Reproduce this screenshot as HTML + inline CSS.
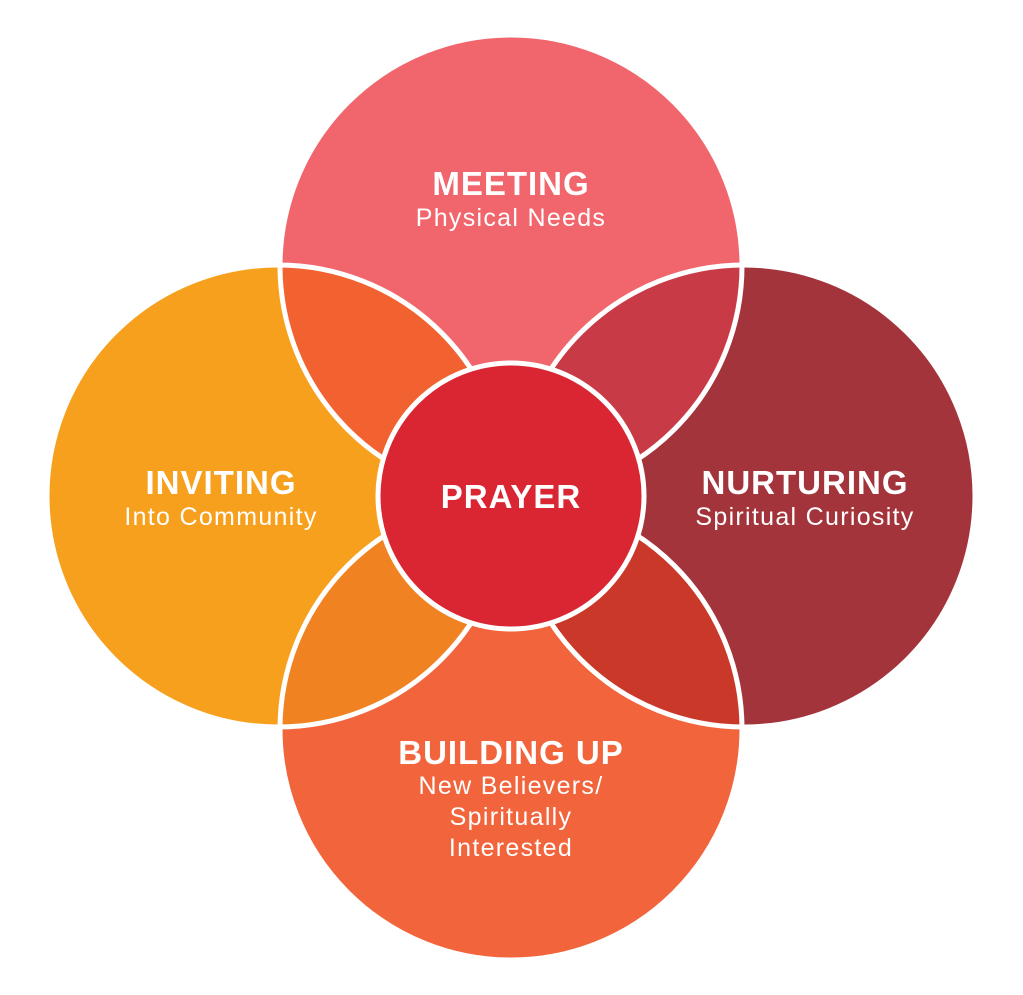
<!DOCTYPE html>
<html><head><meta charset="utf-8"><style>
html,body{margin:0;padding:0;background:#fff;}
svg{display:block;}
text{font-family:"Liberation Sans",sans-serif;fill:#fff;text-anchor:middle;}
.t{font-weight:bold;font-size:33px;letter-spacing:1px;}
.s{font-size:25px;letter-spacing:1.3px;}
</style></head><body>
<svg width="1023" height="995" viewBox="0 0 1023 995" xmlns="http://www.w3.org/2000/svg">
<defs>
<clipPath id="cT"><circle cx="511" cy="266" r="231"/></clipPath>
<clipPath id="cB"><circle cx="511" cy="729" r="231"/></clipPath>
</defs>
<circle cx="511" cy="266" r="231" fill="#F1666D"/>
<circle cx="511" cy="729" r="231" fill="#F2643B"/>
<circle cx="278" cy="496" r="231" fill="#F7A01E"/>
<circle cx="744" cy="496" r="231" fill="#A3343B"/>
<g clip-path="url(#cT)">
<circle cx="278" cy="496" r="231" fill="#F26130"/>
<circle cx="744" cy="496" r="231" fill="#C93A47"/>
</g>
<g clip-path="url(#cB)">
<circle cx="278" cy="496" r="231" fill="#F08221"/>
<circle cx="744" cy="496" r="231" fill="#C93828"/>
</g>
<g fill="none" stroke="#fff" stroke-width="5">
<circle cx="511" cy="266" r="231"/>
<circle cx="511" cy="729" r="231"/>
<circle cx="278" cy="496" r="231"/>
<circle cx="744" cy="496" r="231"/>
</g>
<circle cx="511" cy="496" r="133" fill="#D92632" stroke="#fff" stroke-width="5"/>
<text class="t" x="511" y="195">MEETING</text>
<text class="s" x="511" y="226">Physical Needs</text>
<text class="t" x="221" y="494">INVITING</text>
<text class="s" x="221" y="525">Into Community</text>
<text class="t" x="805" y="494">NURTURING</text>
<text class="s" x="805" y="525">Spiritual Curiosity</text>
<text class="t" x="511" y="508">PRAYER</text>
<text class="t" x="511" y="764">BUILDING UP</text>
<text class="s" x="511" y="794">New Believers/</text>
<text class="s" x="511" y="825">Spiritually</text>
<text class="s" x="511" y="856">Interested</text>
</svg>
</body></html>
